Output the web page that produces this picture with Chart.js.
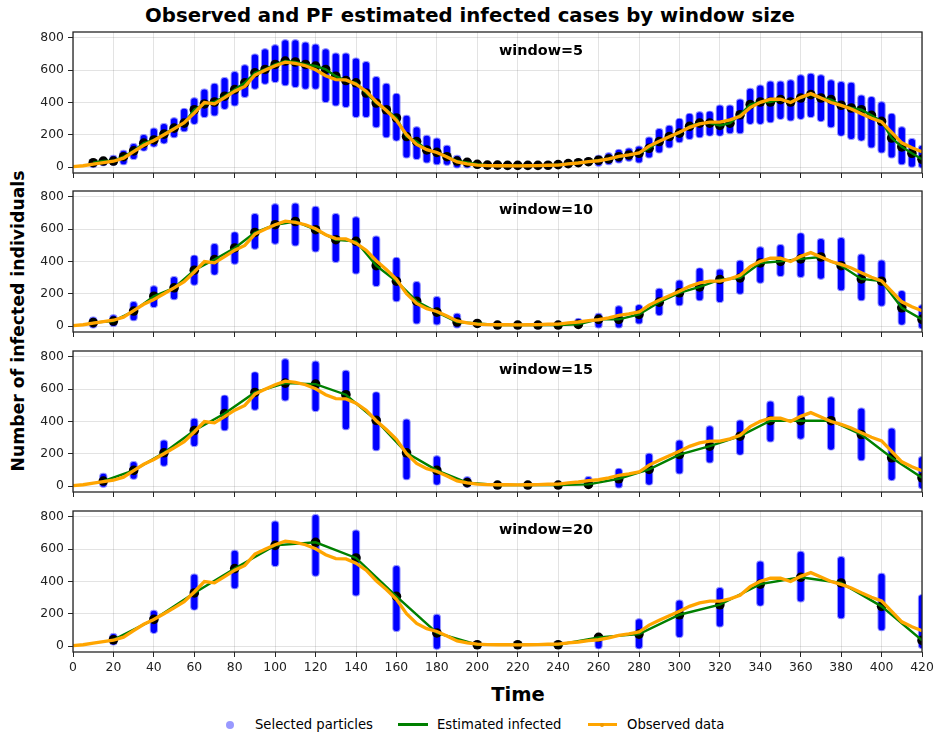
<!DOCTYPE html>
<html>
<head>
<meta charset="utf-8">
<title>Observed and PF estimated infected cases by window size</title>
<script src="https://cdn.jsdelivr.net/npm/chart.js@4.4.1/dist/chart.umd.min.js"></script>
<style>
  html, body { margin: 0; padding: 0; background: #fff; overflow: hidden; }
  #fig { position: relative; width: 937px; height: 735px; font-family: "DejaVu Sans", sans-serif; color: #000; }
  #fig canvas { position: absolute; left: 0; }
  .txt { position: absolute; white-space: nowrap; line-height: 1; }
  .bold { font-weight: bold; }
  .key { position: absolute; }
</style>
</head>
<body>
<div id="fig">
  <div class="txt bold" style="left:470px; top:6px; font-size:19.7px; transform:translateX(-50%);">Observed and PF estimated infected cases by window size</div>
  <div class="txt bold" style="left:19px; top:321px; font-size:17.3px; transform:translate(-50%,-50%) rotate(-90deg);">Number of infected individuals</div>
  <div class="txt bold" style="left:518px; top:685px; font-size:19.5px; transform:translateX(-50%);">Time</div>

  <div class="key" style="left:226px; top:721px; width:8px; height:8px; border-radius:50%; background:rgba(0,0,255,0.4);"></div>
  <div class="txt" style="left:255px; top:718px; font-size:13.2px;">Selected particles</div>
  <div class="key" style="left:398px; top:723px; width:30px; height:3px; background:#008000;"></div>
  <div class="txt" style="left:437px; top:718px; font-size:13.2px;">Estimated infected</div>
  <div class="key" style="left:588px; top:723px; width:29px; height:3px; background:#ffa500;"></div>
  <div class="key" style="left:600px; top:722.5px; width:4px; height:4px; border-radius:50%; background:#f09a00;"></div>
  <div class="txt" style="left:627px; top:718px; font-size:13.2px;">Observed data</div>
</div>
<script>
// observed daily cases, read every 5 days
const obsDays = [0,5,10,15,20,25,30,35,40,45,50,55,60,65,70,75,80,85,90,95,100,105,110,115,120,125,130,135,140,145,150,155,160,165,170,175,180,185,190,195,200,205,210,215,220,225,230,235,240,245,250,255,260,265,270,275,280,285,290,295,300,305,310,315,320,325,330,335,340,345,350,355,360,365,370,375,380,385,390,395,400,405,410,415,420];
const observed = [2,8,18,28,36,55,95,135,165,200, 237,275,335,400,392,430,470,500,570,600, 628,650,642,628,603,566,542,540,514,470, 405,350,290,200,140,108,90,62,32,20, 12,9,8,8,7,8,9,11,12,19, 25,33,39,50,66,75,87,130,160,188, 215,246,267,278,278,292,314,368,401,420, 420,400,432,455,428,400,382,360,330,302, 280,215,150,120,95];

// window = 5
const w5Days = [10,15,20,25,30,35,40,45,50,55,60,65,70,75,80,85,90,95,100,105,110,115,120,125,130,135,140,145,150,155,160,165,170,175,180,185,190,195,200,205,210,215,220,225,230,235,240,245,250,255,260,265,270,275,280,285,290,295,300,305,310,315,320,325,330,335,340,345,350,355,360,365,370,375,380,385,390,395,400,405,410,415,420];
const w5Est = [27,37,37,64,100,148,168,204,241,272, 355,391,403,439,480,522,584,605,636,657, 651,636,626,605,563,536,522,459,397,355, 304,189,158,106,91,64,37,29,17,12, 12,10,10,10,10,11,15,21,27,33, 42,50,64,75,85,116,158,189,210,252, 272,272,258,272,324,387,403,403,418,403, 428,449,428,418,383,366,355,320,283,180, 125,85,48];
const w5Low = [-5,5,8,12,44,96,121,141,179,216, 262,304,314,355,376,428,480,511,522,501, 491,480,480,397,376,366,304,304,241,179, 158,54,44,23,12,8,-8,-8,-5,0, 0,0,0,0,0,0,0,0,5,10, 2,12,23,33,23,54,85,116,148,168, 179,189,189,204,204,262,262,272,293,283, 293,304,279,241,189,168,158,116,85,54, 12,-4,-8];
const w5High = [48,58,75,106,148,204,245,272,308,366, 432,486,522,557,594,636,703,736,761,792, 792,778,765,736,709,709,678,657,563,522, 459,324,252,200,183,137,75,54,35,25, 22,20,20,20,20,20,28,40,50,58, 75,91,112,120,133,189,241,262,304,335, 345,349,387,387,424,491,511,536,536,543, 574,584,574,543,532,528,449,439,407,335, 252,179,137];

// window = 10
const w10Days = [10,20,30,40,50,60,70,80,90,100,110,120,130,140,150,160,170,180,190,200,210,220,230,240,250,260,270,280,290,300,310,320,330,340,350,360,370,380,390,400,410,420];
const w10Est = [21,31,93,185,237,346,412,484,580,628, 648,597,535,525,374,278,154,86,25,16, 6,6,6,6,10,41,41,72,148,206, 243,288,298,391,401,416,428,374,292,278, 113,41];
const w10Low = [-15,-5,30,113,160,250,313,380,473,505, 494,457,391,320,243,148,10,4,-15,-5, 0,0,0,0,-5,-15,-15,10,62,123, 154,144,195,263,305,298,288,216,154,120, 0,-20];
const w10High = [58,72,155,252,310,442,514,586,700,761, 765,745,700,680,560,428,278,185,82,35, 15,15,15,15,50,82,128,135,237,288, 363,356,410,494,508,580,545,551,449,412, 222,134];

// window = 15
const w15Days = [15,30,45,60,75,90,105,120,135,150,165,180,195,210,225,240,255,270,285,300,315,330,345,360,375,390,405,420];
const w15Est = [31,97,206,344,449,580,638,632,566,407, 206,97,21,6,6,6,10,45,103,195, 247,309,405,405,405,319,175,51];
const w15Low = [-10,40,120,243,340,467,525,460,346,216, 37,0,-10,0,0,0,0,-15,0,72, 140,189,270,288,220,154,31,-20];
const w15High = [82,155,288,422,566,710,792,778,720,586, 418,190,60,14,14,14,62,112,206,288, 376,412,530,564,556,486,362,185];

// window = 20
const w20Days = [20,40,60,80,100,120,140,160,180,200,220,240,260,280,300,320,340,360,380,400,420];
const w20Est = [39,165,329,480,624,643,546,308,81,8, 8,8,54,74,194,256,384,426,391,246, 35];
const w20Low = [0,76,220,352,490,430,308,88,-22,0, 0,0,-20,-20,50,115,245,271,167,92, -18];
const w20High = [80,224,449,596,777,818,722,502,200,15, 14,15,72,172,288,365,530,590,558,453, 321];

const panels = [
  { name: 'window=5',  days: w5Days,  est: w5Est,  low: w5Low,  high: w5High,  top: 32 },
  { name: 'window=10', days: w10Days, est: w10Est, low: w10Low, high: w10High, top: 191 },
  { name: 'window=15', days: w15Days, est: w15Est, low: w15Low, high: w15High, top: 351 },
  { name: 'window=20', days: w20Days, est: w20Est, low: w20Low, high: w20High, top: 511 }
];

const PLOT_H = 141;
const PAD_TOP = 12;
const X_AXIS_H = 30;
const gridColor = 'rgba(0,0,0,0.11)';
const tickFont = { family: 'DejaVu Sans', size: 12.4 };

// box around each axes area
const frame = {
  id: 'frame',
  afterDraw(chart) {
    const { ctx, chartArea: a } = chart;
    ctx.save();
    ctx.strokeStyle = '#262626';
    ctx.lineWidth = 1.3;
    ctx.strokeRect(a.left, a.top, a.right - a.left, a.bottom - a.top);
    ctx.restore();
  }
};

const fig = document.getElementById('fig');

panels.forEach((p, idx) => {
  const last = idx === panels.length - 1;
  const canvas = document.createElement('canvas');
  canvas.width = 960;
  canvas.height = PAD_TOP + PLOT_H + X_AXIS_H;
  canvas.style.top = (p.top - PAD_TOP) + 'px';
  fig.appendChild(canvas);

  const tag = document.createElement('div');
  tag.className = 'txt bold';
  tag.style.cssText = `left:499px; top:${p.top + 10.5}px; font-size:14.4px;`;
  tag.textContent = p.name;
  fig.appendChild(tag);

  new Chart(canvas, {
    type: 'scatter',
    plugins: [ frame ],
    data: {
      datasets: [
        {
          type: 'line',
          label: 'Observed data',
          data: obsDays.map((d, i) => ({ x: d, y: observed[i] })),
          borderColor: '#ffa500',
          borderWidth: 3.3,
          pointRadius: 0,
          tension: 0,
          order: 1,
          clip: 0
        },
        {
          type: 'line',
          label: 'Estimated infected',
          data: p.days.map((d, i) => ({ x: d, y: p.est[i] })),
          borderColor: '#008000',
          borderWidth: 2.4,
          pointRadius: 0,
          tension: 0,
          order: 2,
          clip: 0
        },
        {
          type: 'scatter',
          label: 'Estimate',
          data: p.days.map((d, i) => ({ x: d, y: p.est[i] })),
          backgroundColor: '#000',
          borderWidth: 0,
          pointRadius: 4.8,
          order: 3,
          clip: 0
        },
        {
          type: 'bar',
          label: 'Selected particles',
          data: p.days.map((d, i) => ({ x: d, y: [p.low[i], p.high[i]] })),
          backgroundColor: '#0000ff',
          borderColor: 'rgba(70,70,255,0.55)',
          borderWidth: 1.2,
          barThickness: 8,
          borderRadius: 4,
          borderSkipped: false,
          order: 4,
          clip: 0
        }
      ]
    },
    options: {
      responsive: false,
      animation: false,
      events: [],
      devicePixelRatio: 1,
      layout: { padding: { left: 13, right: 38, top: PAD_TOP, bottom: 0 } },
      plugins: { legend: { display: false }, tooltip: { enabled: false } },
      scales: {
        x: {
          type: 'linear',
          min: 0,
          max: 420,
          offset: false,
          grid: { color: gridColor, tickColor: '#262626', tickLength: 5, offset: false },
          border: { display: false },
          ticks: {
            display: last,
            stepSize: 20,
            includeBounds: false,
            autoSkip: false,
            maxRotation: 0,
            color: '#222',
            font: tickFont,
            padding: 3
          },
          afterFit: s => { s.height = X_AXIS_H; }
        },
        y: {
          type: 'linear',
          min: -37,
          max: 837,
          grid: { color: gridColor, tickColor: '#262626', tickLength: 5 },
          border: { display: false },
          ticks: {
            stepSize: 200,
            includeBounds: false,
            color: '#222',
            font: tickFont,
            padding: 4
          },
          afterFit: s => { s.width = 60; }
        }
      }
    }
  });
});
</script>
</body>
</html>
